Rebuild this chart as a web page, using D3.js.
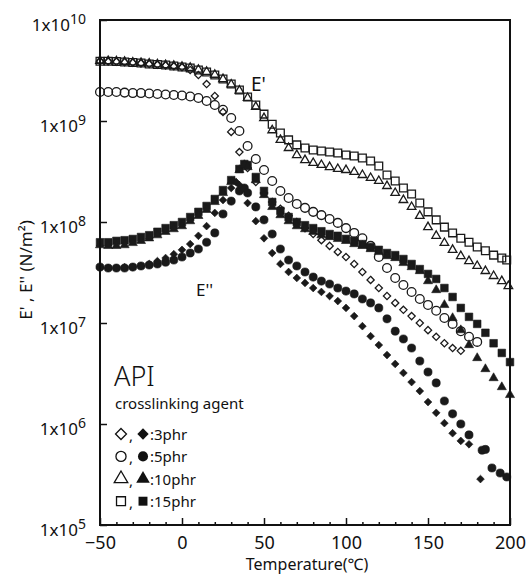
<!DOCTYPE html>
<html>
<head>
<meta charset="utf-8">
<script src="https://cdn.jsdelivr.net/npm/d3@7"></script>
<style>
body { margin: 0; background: #fff; }
text { font-family: "Noto Sans", sans-serif; fill: #111; }
</style>
</head>
<body>
<div id="chart"></div>
<script>
// chart.js

// Constants
var width = 528;
var height = 576;
var margin = {top: 20, right: 18, bottom: 51, left: 100};

// Axis ticks
var xTicks = [-50, 0, 50, 100, 150, 200];
var xMinor = [-40, -30, -20, -10, 10, 20, 30, 40, 60, 70, 80, 90, 110, 120, 130, 140, 160, 170, 180, 190];
var yTicks = [1e5, 1e6, 1e7, 1e8, 1e9, 1e10];
var yExp = [5, 6, 7, 8, 9, 10];

// E' (storage modulus), open symbols  [temperature C, N/m2]
var ep3 = [[-50,3.9e9],[-45,3.88e9],[-40,3.86e9],[-35,3.82e9],[-30,3.78e9],[-25,3.72e9],[-20,3.66e9],[-15,3.6e9],[-10,3.55e9],[-5,3.48e9],[0,3.4e9],[5,3.2e9],[10,2.85e9],[15,2.32e9],[20,1.77e9],[25,1.23e9],[30,7.8e8],[35,4.93e8],[40,3.42e8],[45,2.49e8],[50,1.94e8],[55,1.58e8],[60,1.35e8],[65,1.15e8],[70,1.0e8],[75,8.7e7],[80,7.6e7],[85,6.6e7],[90,5.8e7],[95,5.05e7],[100,4.5e7],[105,3.84e7],[110,3.2e7],[115,2.67e7],[120,2.22e7],[125,1.85e7],[130,1.58e7],[135,1.35e7],[140,1.17e7],[145,1.0e7],[150,8.5e6],[155,7.3e6],[160,6.3e6],[165,5.65e6],[170,5.3e6]];
var ep5 = [[-50,1.94e9],[-45,1.94e9],[-40,1.94e9],[-35,1.91e9],[-30,1.89e9],[-25,1.89e9],[-20,1.87e9],[-15,1.85e9],[-10,1.83e9],[-5,1.81e9],[0,1.79e9],[5,1.75e9],[10,1.69e9],[15,1.58e9],[20,1.44e9],[25,1.29e9],[30,1.07e9],[35,7.96e8],[40,5.65e8],[45,4.2e8],[50,3.27e8],[55,2.55e8],[60,2.03e8],[65,1.73e8],[70,1.51e8],[75,1.38e8],[80,1.26e8],[85,1.17e8],[90,1.07e8],[95,9.8e7],[100,8.7e7],[105,7.8e7],[110,6.9e7],[115,5.8e7],[120,4.5e7],[125,3.5e7],[130,2.79e7],[135,2.38e7],[140,2.03e7],[145,1.73e7],[150,1.51e7],[155,1.32e7],[160,1.12e7],[165,9.8e6],[170,8.3e6],[175,7.3e6],[180,6.5e6]];
var ep10 = [[-50,3.95e9],[-45,3.92e9],[-40,3.9e9],[-35,3.86e9],[-30,3.8e9],[-25,3.76e9],[-20,3.7e9],[-15,3.64e9],[-10,3.58e9],[-5,3.52e9],[0,3.45e9],[5,3.36e9],[10,3.22e9],[15,3.07e9],[20,2.87e9],[25,2.6e9],[30,2.3e9],[35,2.0e9],[40,1.69e9],[45,1.38e9],[50,1.07e9],[55,8.1e8],[60,6.5e8],[65,5.4e8],[70,4.6e8],[75,4.1e8],[80,3.84e8],[85,3.67e8],[90,3.5e8],[95,3.35e8],[100,3.27e8],[105,3.13e8],[110,2.92e8],[115,2.73e8],[120,2.55e8],[125,2.27e8],[130,1.94e8],[135,1.65e8],[140,1.41e8],[145,1.15e8],[150,8.9e7],[155,7.3e7],[160,6.2e7],[165,5.3e7],[170,4.6e7],[175,4.1e7],[180,3.67e7],[185,3.27e7],[190,2.92e7],[195,2.6e7],[199,2.32e7]];
var ep15 = [[-50,3.9e9],[-45,3.9e9],[-40,3.88e9],[-35,3.84e9],[-30,3.79e9],[-25,3.75e9],[-20,3.67e9],[-15,3.62e9],[-10,3.58e9],[-5,3.5e9],[0,3.43e9],[5,3.35e9],[10,3.2e9],[15,3.06e9],[20,2.85e9],[25,2.6e9],[30,2.32e9],[35,2.03e9],[40,1.73e9],[45,1.44e9],[50,1.17e9],[55,9.3e8],[60,7.6e8],[65,6.5e8],[70,5.8e8],[75,5.4e8],[80,5.16e8],[85,5.05e8],[90,4.93e8],[95,4.82e8],[100,4.6e8],[105,4.5e8],[110,4.3e8],[115,4.02e8],[120,3.58e8],[125,2.92e8],[130,2.55e8],[135,2.17e8],[140,1.89e8],[145,1.54e8],[150,1.26e8],[155,1.05e8],[160,8.9e7],[165,7.8e7],[170,6.9e7],[175,6.3e7],[180,5.65e7],[185,5.2e7],[190,4.7e7],[195,4.4e7],[198,4.2e7]];

// E'' (loss modulus), filled symbols
var epp3 = [[-50,3.5e7],[-45,3.5e7],[-40,3.5e7],[-35,3.58e7],[-30,3.58e7],[-25,3.67e7],[-20,3.84e7],[-15,4.1e7],[-10,4.4e7],[-5,4.8e7],[0,5.3e7],[5,6.05e7],[10,7.3e7],[15,9.1e7],[20,1.23e8],[25,1.65e8],[30,2.17e8],[33,2.49e8],[35,2.32e8],[40,1.54e8],[45,1.02e8],[50,6.9e7],[55,4.93e7],[60,3.84e7],[65,3.2e7],[70,2.79e7],[75,2.49e7],[80,2.22e7],[85,2.03e7],[90,1.85e7],[95,1.65e7],[100,1.41e7],[105,1.17e7],[110,9.3e6],[115,7.4e6],[120,6.05e6],[125,4.82e6],[130,3.93e6],[135,3.2e6],[140,2.6e6],[145,2.12e6],[150,1.65e6],[155,1.29e6],[160,1.02e6],[165,8.1e5],[170,6.8e5],[175,6.3e5],[182,2.85e5]];
var epp5 = [[-50,3.58e7],[-45,3.5e7],[-40,3.5e7],[-35,3.5e7],[-30,3.58e7],[-25,3.67e7],[-20,3.75e7],[-15,3.84e7],[-10,4.0e7],[-5,4.2e7],[0,4.5e7],[5,4.93e7],[10,5.4e7],[15,6.3e7],[20,7.8e7],[25,1.2e8],[30,1.61e8],[35,2.03e8],[38,2.17e8],[40,1.94e8],[45,1.41e8],[50,1.05e8],[55,7.6e7],[60,5.4e7],[65,4.2e7],[70,3.67e7],[75,3.2e7],[80,2.85e7],[85,2.6e7],[90,2.43e7],[95,2.22e7],[100,2.07e7],[105,1.94e7],[110,1.73e7],[115,1.58e7],[120,1.41e7],[125,1.1e7],[130,8.3e6],[135,6.95e6],[140,5.65e6],[145,4.2e6],[150,3.27e6],[155,2.55e6],[160,1.69e6],[165,1.26e6],[170,1.0e6],[175,7.8e5],[183,5.5e5],[185,5.6e5],[189,3.67e5],[194,3.27e5],[198,2.99e5]];
var epp10 = [[-50,5.9e7],[-45,5.8e7],[-40,5.8e7],[-35,5.9e7],[-30,6.2e7],[-25,6.5e7],[-20,6.9e7],[-15,7.4e7],[-10,8.0e7],[-5,8.5e7],[0,9.1e7],[5,1.02e8],[10,1.15e8],[15,1.32e8],[20,1.58e8],[25,1.94e8],[30,2.49e8],[35,3.27e8],[38,3.67e8],[40,3.5e8],[45,2.6e8],[50,1.85e8],[55,1.41e8],[60,1.17e8],[65,1.02e8],[70,9.1e7],[75,8.5e7],[80,8.0e7],[85,7.4e7],[90,7.1e7],[95,6.8e7],[100,6.5e7],[105,6.05e7],[110,5.8e7],[115,5.4e7],[120,5.05e7],[125,4.6e7],[130,4.4e7],[135,3.93e7],[140,3.58e7],[145,3.27e7],[150,2.6e7],[155,2.12e7],[160,1.51e7],[165,1.12e7],[170,8.5e6],[175,6.05e6],[180,4.5e6],[185,3.5e6],[190,2.85e6],[195,2.32e6],[200,1.94e6]];
var epp15 = [[-50,6.3e7],[-45,6.3e7],[-40,6.5e7],[-35,6.6e7],[-30,6.79e7],[-25,7.1e7],[-20,7.4e7],[-15,8.0e7],[-10,8.7e7],[-5,9.3e7],[0,1.0e8],[5,1.12e8],[10,1.26e8],[15,1.44e8],[20,1.69e8],[25,2.07e8],[30,2.6e8],[35,3.35e8],[38,3.75e8],[40,3.67e8],[45,2.79e8],[50,2.03e8],[55,1.58e8],[60,1.29e8],[65,1.12e8],[70,1.0e8],[75,9.3e7],[80,8.7e7],[85,8.1e7],[90,7.6e7],[95,7.3e7],[100,6.8e7],[105,6.5e7],[110,6.05e7],[115,5.65e7],[120,5.3e7],[125,4.93e7],[130,4.7e7],[135,4.3e7],[140,3.84e7],[145,3.42e7],[150,3.06e7],[155,2.73e7],[160,2.22e7],[165,1.81e7],[170,1.41e7],[175,1.15e7],[180,9.8e6],[185,8.0e6],[190,6.3e6],[195,5.05e6],[200,4.1e6]];

// Legend rows
var legendLabels = [":3phr", ":5phr", ":10phr", ":15phr"];

// Regular diamond (rotated square), size = area
var diamond = {
  draw: function(ctx, size) {
    var r = Math.sqrt(size / 2);
    ctx.moveTo(0, -r); ctx.lineTo(r, 0); ctx.lineTo(0, r); ctx.lineTo(-r, 0); ctx.closePath();
  }
};

var shapes = [diamond, d3.symbolCircle, d3.symbolTriangle, d3.symbolSquare];
var openSize = [26, 60, 32, 60];
var fillSize = [30, 52, 36, 58];

var series = [
  {data: ep15, k: 3, filled: false},
  {data: ep10, k: 2, filled: false},
  {data: ep3, k: 0, filled: false},
  {data: ep5, k: 1, filled: false},
  {data: epp15, k: 3, filled: true},
  {data: epp10, k: 2, filled: true},
  {data: epp5, k: 1, filled: true},
  {data: epp3, k: 0, filled: true}
];

var x = d3.scaleLinear().domain([-50, 200]).range([margin.left, width - margin.right]);
var y = d3.scaleLog().domain([1e5, 1e10]).range([height - margin.bottom, margin.top]);

var svg = d3.select("#chart")
  .append("svg")
    .attr("width", width)
    .attr("height", height);

svg.append("rect").attr("width", width).attr("height", height).attr("fill", "#fff");

// Markers
series.forEach(function(s) {
  var sym = d3.symbol().type(shapes[s.k]).size(s.filled ? fillSize[s.k] : openSize[s.k]);
  svg.append("g")
    .selectAll("path")
    .data(s.data)
    .enter().append("path")
      .attr("d", sym)
      .attr("transform", function(d) { return "translate(" + x(d[0]) + "," + y(d[1]) + ")"; })
      .attr("fill", s.filled ? "#1a1a1a" : "none")
      .attr("stroke", "#1a1a1a")
      .attr("stroke-width", s.filled ? 0.6 : 1.3);
});

// Axes with inward ticks
var xAxis = svg.append("g")
  .attr("transform", "translate(0," + y(1e5) + ")")
  .call(d3.axisBottom(x).tickValues(xTicks).tickSize(-7).tickPadding(11).tickFormat(d3.format("d")));
xAxis.selectAll("text").style("font-size", "18px").attr("fill", "#111");

svg.append("g")
  .attr("transform", "translate(0," + y(1e5) + ")")
  .call(d3.axisBottom(x).tickValues(xMinor).tickSize(-3).tickFormat(""))
  .select(".domain").remove();

svg.append("g")
  .attr("transform", "translate(" + x(-50) + ",0)")
  .call(d3.axisLeft(y).tickValues(yTicks).tickSize(-7).tickFormat(""))
  .select(".domain").remove();

svg.selectAll(".tick line").attr("stroke", "#111").attr("stroke-width", 1.5);
xAxis.select(".domain").remove();

// Frame
svg.append("rect")
  .attr("x", x(-50)).attr("y", y(1e10))
  .attr("width", x(200) - x(-50)).attr("height", y(1e5) - y(1e10))
  .attr("fill", "none").attr("stroke", "#111").attr("stroke-width", 2);

// Y tick labels 1x10^n
var yl = svg.append("g").selectAll("text")
  .data(yTicks)
  .enter().append("text")
    .attr("x", x(-50) - 14)
    .attr("y", function(d) { return y(d) + 11; })
    .attr("text-anchor", "end")
    .style("font-size", "17px");
yl.append("tspan").text("1x10");
yl.append("tspan")
  .attr("dy", -7)
  .style("font-size", "14px")
  .text(function(d, i) { return yExp[i]; });

// Axis titles
svg.append("text")
  .attr("x", 307).attr("y", 570)
  .attr("text-anchor", "middle")
  .style("font-size", "16px")
  .text("Temperature(\u2103)");

svg.append("text")
  .attr("transform", "translate(32,270) rotate(-90)")
  .attr("text-anchor", "middle")
  .style("font-size", "17px")
  .text("E' , E'' (N/m\u00b2)");

// Curve labels
svg.append("text").attr("x", 251).attr("y", 91).style("font-size", "19px").text("E'");
svg.append("text").attr("x", 196).attr("y", 296).style("font-size", "17px").text("E''");

// Legend
svg.append("text").attr("x", 114).attr("y", 386).style("font-size", "27px").style("font-weight", 300).text("API");
svg.append("text").attr("x", 115).attr("y", 409).style("font-size", "15px").text("crosslinking agent");

var leg = svg.append("g").selectAll("g")
  .data(legendLabels)
  .enter().append("g")
    .attr("transform", function(d, i) { return "translate(0," + (440 + i * 22.4) + ")"; });

leg.append("path")
  .attr("d", function(d, i) { return d3.symbol().type(shapes[i]).size(i === 0 ? 60 : 80)(); })
  .attr("transform", "translate(121,-6)")
  .attr("fill", "none").attr("stroke", "#111").attr("stroke-width", 1.3);
leg.append("text").attr("x", 129).attr("y", 1).style("font-size", "15px").text(",");
leg.append("path")
  .attr("d", function(d, i) { return d3.symbol().type(shapes[i]).size(i === 0 ? 64 : 80)(); })
  .attr("transform", "translate(143,-6)")
  .attr("fill", "#111");
leg.append("text").attr("x", 150).attr("y", 0).style("font-size", "15px").text(function(d) { return d; });
</script>
</body>
</html>
